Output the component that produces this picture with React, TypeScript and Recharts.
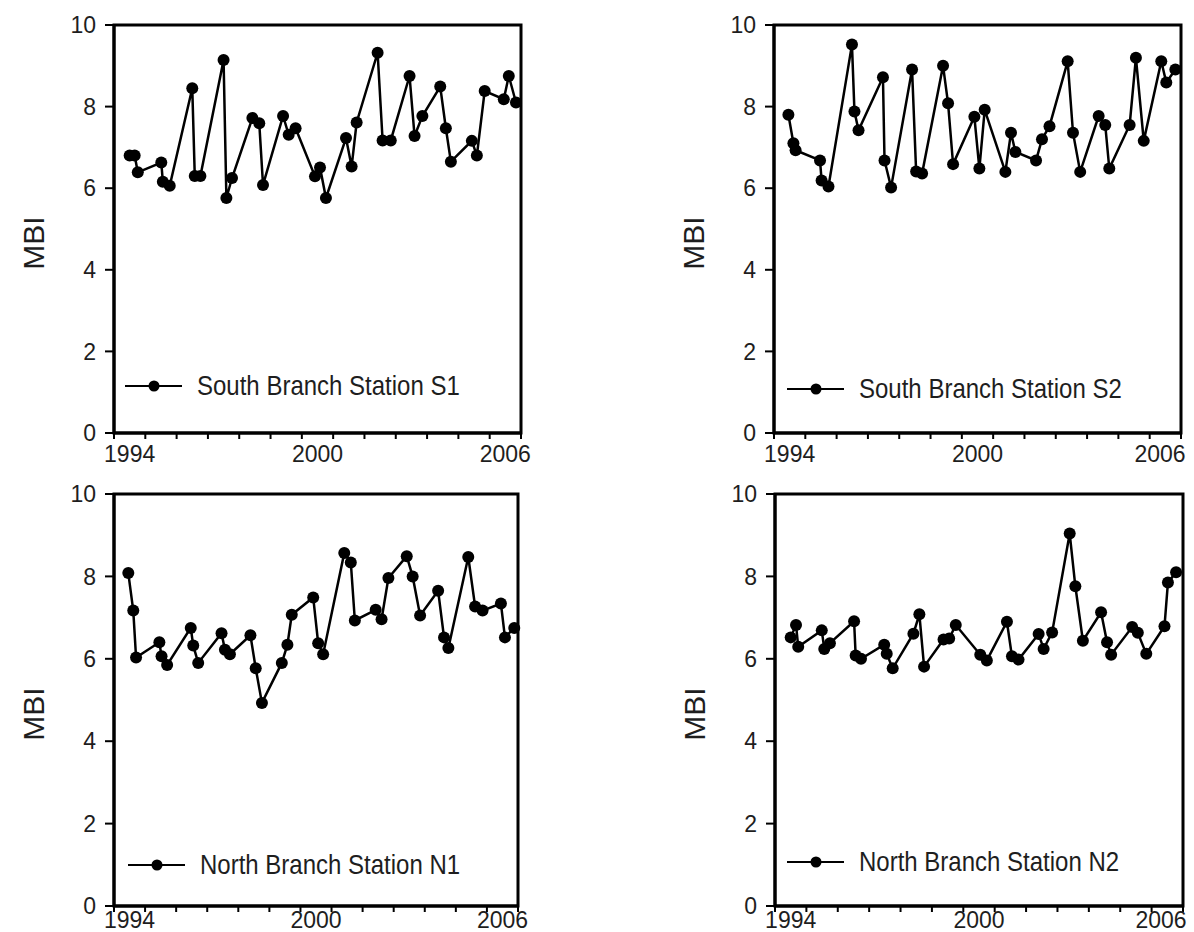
import React from 'react';
import { LineChart, Line, XAxis, YAxis, ReferenceArea } from 'recharts';

// sampling dates (decimal years) and MBI values
const s1Times = [1994.50, 1994.66, 1994.76, 1995.51, 1995.56, 1995.78, 1996.50, 1996.58, 1996.76, 1997.50, 1997.59, 1997.77, 1998.42, 1998.64, 1998.76, 1999.40, 1999.58, 1999.80, 2000.42, 2000.58, 2000.77, 2001.41, 2001.59, 2001.75, 2002.42, 2002.58, 2002.84, 2003.44, 2003.60, 2003.85, 2004.42, 2004.60, 2004.76, 2005.43, 2005.59, 2005.84, 2006.45, 2006.61, 2006.84];
const s1Mbi = [6.80, 6.80, 6.39, 6.63, 6.16, 6.06, 8.45, 6.30, 6.30, 9.14, 5.76, 6.25, 7.72, 7.59, 6.08, 7.77, 7.31, 7.47, 6.29, 6.51, 5.76, 7.23, 6.53, 7.61, 9.32, 7.17, 7.17, 8.75, 7.28, 7.77, 8.49, 7.47, 6.65, 7.16, 6.80, 8.38, 8.18, 8.75, 8.10];

const s2Times = [1994.46, 1994.62, 1994.69, 1995.47, 1995.52, 1995.74, 1996.49, 1996.57, 1996.70, 1997.48, 1997.53, 1997.74, 1998.41, 1998.54, 1998.73, 1999.40, 1999.56, 1999.72, 2000.40, 2000.56, 2000.73, 2001.39, 2001.57, 2001.71, 2002.37, 2002.56, 2002.80, 2003.38, 2003.55, 2003.78, 2004.37, 2004.58, 2004.71, 2005.36, 2005.56, 2005.81, 2006.37, 2006.53, 2006.82];
const s2Mbi = [7.80, 7.10, 6.93, 6.68, 6.19, 6.04, 9.52, 7.88, 7.42, 8.72, 6.68, 6.02, 8.91, 6.41, 6.36, 9.00, 8.08, 6.59, 7.75, 6.48, 7.92, 6.40, 7.36, 6.89, 6.68, 7.20, 7.52, 9.11, 7.36, 6.40, 7.77, 7.55, 6.48, 7.55, 9.20, 7.16, 9.11, 8.59, 8.91];

const n1Times = [1994.46, 1994.62, 1994.71, 1995.46, 1995.53, 1995.71, 1996.47, 1996.55, 1996.71, 1997.46, 1997.57, 1997.73, 1998.39, 1998.56, 1998.76, 1999.40, 1999.58, 1999.72, 2000.41, 2000.57, 2000.73, 2001.41, 2001.62, 2001.75, 2002.42, 2002.61, 2002.83, 2003.42, 2003.61, 2003.85, 2004.43, 2004.62, 2004.76, 2005.40, 2005.62, 2005.86, 2006.45, 2006.58, 2006.88];
const n1Mbi = [8.08, 7.17, 6.03, 6.40, 6.06, 5.85, 6.75, 6.32, 5.90, 6.62, 6.22, 6.11, 6.57, 5.77, 4.93, 5.90, 6.34, 7.07, 7.49, 6.38, 6.11, 8.57, 8.34, 6.93, 7.19, 6.96, 7.96, 8.49, 8.00, 7.05, 7.65, 6.52, 6.26, 8.47, 7.27, 7.17, 7.34, 6.52, 6.75];

const n2Times = [1994.50, 1994.67, 1994.74, 1995.49, 1995.57, 1995.75, 1996.52, 1996.57, 1996.74, 1997.48, 1997.56, 1997.75, 1998.41, 1998.60, 1998.75, 1999.37, 1999.55, 1999.76, 2000.54, 2000.75, 2001.39, 2001.55, 2001.76, 2002.40, 2002.56, 2002.83, 2003.39, 2003.57, 2003.81, 2004.39, 2004.58, 2004.71, 2005.38, 2005.56, 2005.83, 2006.41, 2006.52, 2006.78];
const n2Mbi = [6.52, 6.82, 6.29, 6.69, 6.24, 6.38, 6.91, 6.08, 6.00, 6.34, 6.12, 5.77, 6.61, 7.08, 5.81, 6.47, 6.49, 6.82, 6.10, 5.96, 6.90, 6.06, 5.98, 6.60, 6.24, 6.64, 9.04, 7.76, 6.44, 7.13, 6.40, 6.10, 6.77, 6.63, 6.12, 6.79, 7.85, 8.10];

const yearTicks = [1994, 1995, 1996, 1997, 1998, 1999, 2000, 2001, 2002, 2003, 2004, 2005, 2006, 2007];
const labeledYears = [1994, 2000, 2006];
const mbiTicks = [0, 2, 4, 6, 8, 10];

const FONT = '"Liberation Sans", Arial, Helvetica, sans-serif';
const INK = '#1e1e1e';
const AXIS_W = 114;

type PanelProps = {
  name: string;
  times: number[];
  values: number[];
  left: number;
  top: number;
  width: number;
  height: number;
  right: number;
  xAxisH: number;
  labelDy: number;
  legendDx: number;
  legendDy: number;
};

function Panel({ name, times, values, left, top, width, height, right, xAxisH, labelDy, legendDx, legendDy }: PanelProps) {
  const data = times.map((t, i) => ({ t, mbi: values[i] }));
  const plotTop = 25;
  const plotW = width - AXIS_W - right;
  const plotH = height - plotTop - xAxisH;
  const half = plotW / (yearTicks.length - 1) / 2;

  // year labels sit in the middle of their year, kept inside the page
  const yearTick = (props: any) => {
    const { x, y, payload } = props;
    if (!labeledYears.includes(payload.value)) return <g />;
    return (
      <text x={Math.min(x + half, width - 30)} y={y + labelDy} textAnchor="middle" fontSize={23} fill={INK} fontFamily={FONT}>
        {payload.value}
      </text>
    );
  };

  return (
    <div style={{ position: 'absolute', left, top, width, height }}>
      <LineChart
        width={width}
        height={height}
        data={data}
        margin={{ top: plotTop, right, bottom: 0, left: 0 }}
        style={{ overflow: 'visible' }}
      >
        <XAxis
          type="number"
          dataKey="t"
          domain={[1994, 2007]}
          ticks={yearTicks}
          interval={0}
          height={xAxisH}
          axisLine={{ stroke: '#000', strokeWidth: 3 }}
          tickLine={{ stroke: '#000', strokeWidth: 2 }}
          tickSize={6}
          tick={yearTick}
        />
        <YAxis
          type="number"
          domain={[0, 10]}
          ticks={mbiTicks}
          interval={0}
          width={AXIS_W}
          axisLine={{ stroke: '#000', strokeWidth: 3 }}
          tickLine={{ stroke: '#000', strokeWidth: 2 }}
          tickSize={9}
          tickMargin={9}
          tick={{ fill: INK, fontSize: 23, fontFamily: FONT }}
        />
        <ReferenceArea x1={1994} x2={2007} y1={0} y2={10} fill="none" stroke="#000" strokeWidth={3} />
        <Line
          dataKey="mbi"
          stroke="#000"
          strokeWidth={2.5}
          dot={{ r: 6, fill: '#000', stroke: '#000', strokeWidth: 0 }}
          isAnimationActive={false}
        />
      </LineChart>

      {/* y title */}
      <div
        style={{
          position: 'absolute',
          left: AXIS_W - 80 - 60,
          top: plotTop + plotH / 2 + 14 - 16,
          width: 120,
          height: 32,
          lineHeight: '32px',
          textAlign: 'center',
          transform: 'rotate(-90deg)',
          fontFamily: FONT,
          fontSize: 30,
          color: INK,
        }}
      >
        MBI
      </div>

      {/* legend */}
      <div
        style={{
          position: 'absolute',
          left: AXIS_W + legendDx,
          top: plotTop + legendDy - 15,
          height: 30,
          display: 'flex',
          alignItems: 'center',
          whiteSpace: 'nowrap',
          fontFamily: FONT,
          fontSize: 24,
          color: INK,
        }}
      >
        <svg width={58} height={14} style={{ marginRight: 14 }}>
          <line x1={0} y1={7} x2={57} y2={7} stroke="#000" strokeWidth={2} />
          <circle cx={29} cy={7} r={5.5} fill="#000" />
        </svg>
        <span style={{ display: 'inline-block', transform: 'scaleY(1.12)' }}>{name}</span>
      </div>
    </div>
  );
}

export default function App() {
  return (
    <div style={{ position: 'absolute', left: 0, top: 0, width: 1194, height: 932, overflow: 'hidden', background: '#fff' }}>
      <style>{'html,body{overflow:hidden;}'}</style>
      <Panel name="South Branch Station S1" times={s1Times} values={s1Mbi}
        left={0} top={0} width={540} height={470} right={19} xAxisH={37} labelDy={21} legendDx={11} legendDy={361} />
      <Panel name="South Branch Station S2" times={s2Times} values={s2Mbi}
        left={660} top={0} width={530} height={470} right={9} xAxisH={37} labelDy={21} legendDx={13} legendDy={364} />
      <Panel name="North Branch Station N1" times={n1Times} values={n1Mbi}
        left={0} top={469} width={540} height={470} right={22} xAxisH={33} labelDy={14} legendDx={14} legendDy={371} />
      <Panel name="North Branch Station N2" times={n2Times} values={n2Mbi}
        left={661} top={469} width={530} height={470} right={8} xAxisH={33} labelDy={14} legendDx={12} legendDy={368} />
    </div>
  );
}
